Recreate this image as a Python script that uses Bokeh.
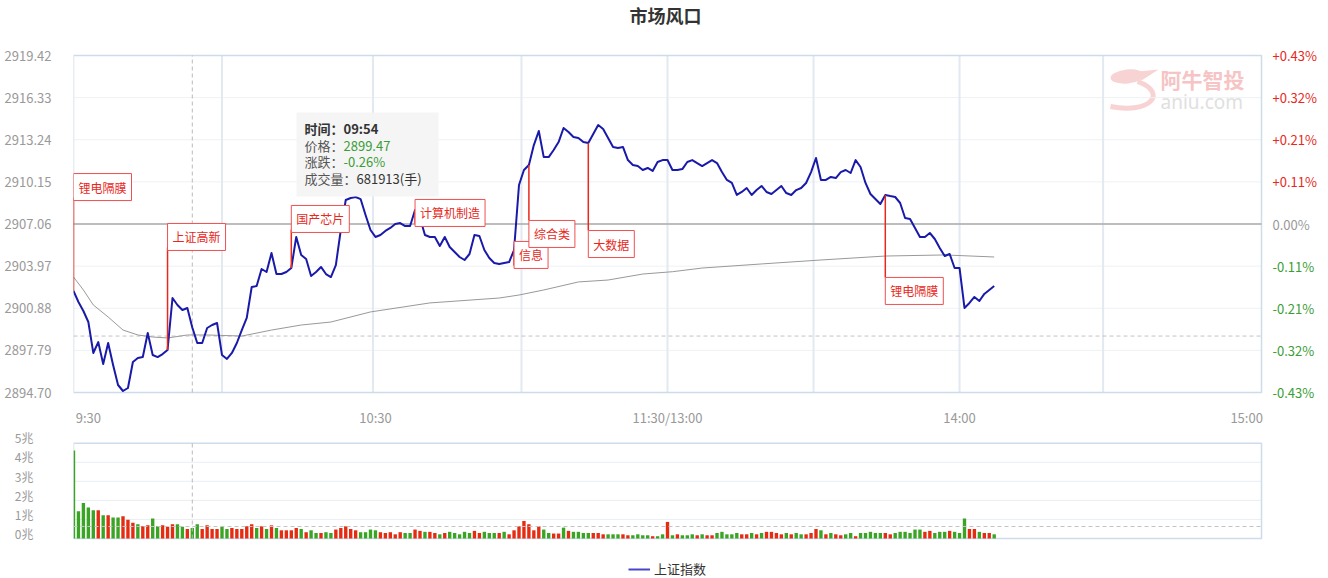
import numpy as np
from bokeh.plotting import figure
from bokeh.models import (ColumnDataSource, Range1d, FixedTicker, NumeralTickFormatter,
                          LinearAxis, Legend, LegendItem)
from bokeh.layouts import column
from bokeh.embed import file_html
from bokeh.resources import INLINE
from bokeh.core.properties import value

FONT = "Noto Sans CJK SC"

# ---------------- data ----------------
index_name = "上证指数"
pre_close = 2907.06
price_levels = [2894.70, 2897.79, 2900.88, 2903.97, 2907.06,
                2910.15, 2913.24, 2916.33, 2919.42]

# one value per trading minute from 09:30 (minute 0); 11:30 and 13:00 share minute 120
price = [
    2902.15, 2901.34, 2900.68, 2899.87, 2897.60, 2898.40, 2896.79, 2898.33, 2896.72, 2895.25,
    2894.81, 2895.03, 2896.94, 2897.23, 2897.30, 2899.06, 2897.45, 2897.30, 2897.52, 2897.82,
    2901.63, 2901.12, 2900.75, 2900.90, 2899.47, 2898.33, 2898.33, 2899.43, 2899.65, 2899.80,
    2897.45, 2897.16, 2897.60, 2898.33, 2899.28, 2900.17, 2902.44, 2902.51, 2903.76, 2903.54,
    2904.93, 2903.39, 2903.39, 2903.54, 2903.83, 2906.11, 2904.79, 2904.49, 2903.25, 2903.54,
    2903.91, 2903.39, 2903.17, 2904.05, 2906.62, 2908.82, 2908.97, 2909.04, 2908.89, 2907.72,
    2906.62, 2906.11, 2906.25, 2906.55, 2906.77, 2907.06, 2907.13, 2906.91, 2906.91, 2908.09,
    2907.50, 2906.25, 2906.11, 2906.11, 2905.45, 2906.11, 2905.37, 2905.01, 2904.64, 2904.42,
    2904.86, 2906.25, 2906.18, 2905.15, 2904.57, 2904.20, 2904.13, 2904.20, 2904.27, 2905.15,
    2909.92, 2911.02, 2911.39, 2912.85, 2913.88, 2911.97, 2911.97, 2912.49, 2913.07, 2914.10,
    2913.81, 2913.44, 2913.37, 2913.07, 2913.00, 2913.66, 2914.32, 2914.03, 2913.37, 2912.71,
    2912.63, 2912.71, 2911.75, 2911.39, 2911.31, 2911.02, 2911.17, 2910.95, 2911.61, 2911.75,
    2911.75, 2911.02, 2911.02, 2911.09, 2911.61, 2911.75, 2911.53, 2911.31, 2911.53, 2911.75,
    2911.53, 2910.87, 2910.29, 2910.07, 2909.19, 2909.41, 2909.70, 2909.19, 2909.55, 2909.85,
    2909.41, 2909.26, 2909.55, 2909.85, 2909.33, 2909.19, 2909.55, 2909.70, 2910.07, 2910.87,
    2911.90, 2910.29, 2910.29, 2910.51, 2910.43, 2910.87, 2911.02, 2910.80, 2911.75, 2911.24,
    2910.07, 2909.26, 2908.89, 2908.53, 2909.19, 2909.11, 2909.04, 2908.60, 2907.50, 2907.43,
    2906.77, 2906.11, 2906.11, 2906.40, 2905.96, 2905.30, 2904.71, 2904.86, 2903.83, 2903.83,
    2900.90, 2901.27, 2901.71, 2901.41, 2901.93, 2902.22, 2902.51,
]

# running average price, read at selected minutes
avg_minute = [0, 2, 4, 7, 10, 13, 16, 19, 23, 27, 34, 40, 46, 52, 60, 72, 86, 90, 95,
              102, 108, 115, 121, 127, 139, 151, 164, 176, 186]
avg_price = [2903.17, 2902.22, 2901.12, 2900.24, 2899.28, 2898.92, 2898.77, 2898.70,
             2898.92, 2898.92, 2898.84, 2899.28, 2899.65, 2899.87, 2900.61, 2901.27,
             2901.63, 2901.85, 2902.22, 2902.81, 2902.95, 2903.39, 2903.56, 2903.83,
             2904.13, 2904.42, 2904.71, 2904.79, 2904.64]

# turnover per minute (兆)
volume = [
    4.62, 1.43, 1.86, 1.62, 1.48, 1.48, 1.22, 1.22, 1.10, 1.10,
    1.17, 0.99, 0.82, 0.75, 0.64, 0.69, 1.05, 0.64, 0.69, 0.61,
    0.75, 0.75, 0.61, 0.50, 0.55, 0.75, 0.50, 0.69, 0.50, 0.50,
    0.61, 0.50, 0.55, 0.50, 0.50, 0.64, 0.75, 0.55, 0.64, 0.50,
    0.69, 0.55, 0.43, 0.43, 0.43, 0.55, 0.50, 0.33, 0.43, 0.29,
    0.29, 0.33, 0.29, 0.47, 0.55, 0.64, 0.50, 0.43, 0.33, 0.33,
    0.47, 0.43, 0.33, 0.29, 0.33, 0.22, 0.33, 0.29, 0.29, 0.47,
    0.40, 0.35, 0.35, 0.29, 0.22, 0.29, 0.35, 0.29, 0.22, 0.35,
    0.29, 0.40, 0.29, 0.35, 0.29, 0.29, 0.29, 0.35, 0.22, 0.43,
    0.64, 0.92, 0.75, 0.43, 0.64, 0.47, 0.29, 0.26, 0.26, 0.57,
    0.40, 0.35, 0.35, 0.29, 0.29, 0.29, 0.29, 0.22, 0.22, 0.22,
    0.22, 0.22, 0.17, 0.17, 0.22, 0.17, 0.17, 0.12, 0.12, 0.22,
    0.87, 0.17, 0.22, 0.17, 0.17, 0.22, 0.17, 0.22, 0.17, 0.17,
    0.29, 0.35, 0.22, 0.22, 0.29, 0.22, 0.22, 0.29, 0.22, 0.29,
    0.35, 0.35, 0.29, 0.22, 0.29, 0.22, 0.29, 0.22, 0.22, 0.29,
    0.50, 0.43, 0.22, 0.29, 0.22, 0.17, 0.22, 0.29, 0.12, 0.29,
    0.29, 0.35, 0.29, 0.29, 0.29, 0.22, 0.29, 0.35, 0.35, 0.29,
    0.47, 0.47, 0.35, 0.40, 0.29, 0.35, 0.35, 0.40, 0.35, 0.29,
    1.05, 0.50, 0.50, 0.35, 0.29, 0.29, 0.22,
]
# 1 = up minute (red), 0 = down minute (green)
volume_up = [
    0, 0, 0, 0, 0, 1, 0, 1, 0, 0,
    1, 1, 1, 0, 1, 1, 0, 0, 1, 1,
    1, 0, 0, 1, 0, 0, 1, 1, 1, 1,
    0, 0, 1, 1, 1, 1, 1, 0, 1, 0,
    1, 0, 1, 1, 1, 1, 0, 1, 0, 0,
    1, 0, 0, 1, 1, 1, 1, 1, 0, 0,
    0, 0, 1, 1, 1, 1, 1, 0, 0, 1,
    1, 0, 1, 1, 0, 1, 0, 0, 0, 0,
    0, 1, 1, 0, 0, 0, 1, 0, 1, 1,
    1, 1, 1, 1, 1, 0, 0, 1, 1, 0,
    1, 0, 0, 0, 0, 1, 1, 1, 0, 0,
    0, 1, 1, 0, 0, 0, 0, 1, 0, 0,
    1, 0, 1, 0, 0, 0, 1, 0, 1, 1,
    0, 0, 0, 0, 0, 1, 1, 0, 1, 0,
    1, 1, 1, 1, 0, 1, 0, 0, 1, 1,
    1, 0, 1, 0, 1, 1, 0, 0, 1, 0,
    0, 0, 0, 0, 1, 1, 0, 0, 0, 0,
    0, 0, 1, 1, 0, 0, 0, 1, 0, 0,
    0, 1, 1, 0, 1, 1, 0,
]
volume_ticks = [0, 1, 2, 3, 4, 5]

# sector flags shown on the price line
flag_minute = [0, 19, 44, 69, 89, 92, 104, 164]
flag_text = ["锂电隔膜", "上证高新", "国产芯片", "计算机制造", "信息", "综合类", "大数据", "锂电隔膜"]

# hovered minute shown in the info box
hover_minute = 24
hover_volume_text = "681913(手)"

time_labels = ["9:30", "10:30", "11:30/13:00", "14:00", "15:00"]

# ---------------- layout ----------------
W = 1328
LEFT = 73                 # left edge of the plotting box (px)
PX_PER_MIN = 4.95
SESSION_END = 240         # 15:00
MAIN_H = 428
FRAME_H = MAIN_H          # time axis sits inside the frame, under the box
TOP_PX = 55               # page row of the highest price level
BOTTOM_PX = 392           # page row of the lowest price level
VOL_H = 578 - MAIN_H
VOL_ZERO_PX = 110         # row of 0 inside the volume figure
VOL_PX_PER_UNIT = 19.06
VOL_LABEL_LIFT = 5.3

time_tick_pos = [3, 61, 120, 179, 237]
vgrid_pos = [30, 60.5, 90.5, 120, 149.5, 179, 208]
flag_box_top = [2910.76, 2907.10, 2908.42, 2908.86, 2905.78, 2907.32, 2906.58, 2903.14]
FLAG_BOX_PX = 24

GRID = "#eef1f5"
VGRID = "#e2e9f0"
FRAME_LINE = "#cddcea"
RED = "#e8281c"
GREEN = "#3a9e35"
BAR_RED = "#e52b12"
BAR_GREEN = "#3aa524"
GREY_TXT = "#999999"

lo, hi = price_levels[0], price_levels[-1]
pts_per_px = (hi - lo) / (BOTTOM_PX - TOP_PX)
x_range = Range1d(0, (W - LEFT) / PX_PER_MIN)
y_range = Range1d(lo - (FRAME_H - BOTTOM_PX) * pts_per_px, hi + TOP_PX * pts_per_px)


def sx(page_x):
    return (page_x - LEFT) / PX_PER_MIN


def sy(page_y):
    return lo + (BOTTOM_PX - page_y) * pts_per_px


minutes = np.arange(len(price))

# ---------------- price panel ----------------
p = figure(width=W, height=MAIN_H, x_range=x_range, y_range=y_range,
           output_backend="svg", toolbar_location=None,
           min_border_left=LEFT, min_border_right=0, min_border_top=0,
           min_border_bottom=0)
p.outline_line_color = None
p.background_fill_color = "white"
p.border_fill_color = "white"
p.xgrid.visible = False
p.ygrid.visible = False

p.yaxis.ticker = FixedTicker(ticks=price_levels)
p.yaxis.formatter = NumeralTickFormatter(format="0.00")
p.yaxis.axis_line_color = None
p.yaxis.major_tick_line_color = None
p.yaxis.minor_tick_line_color = None
p.yaxis.major_label_standoff = 16
p.yaxis.major_label_text_color = GREY_TXT
p.yaxis.major_label_text_font = FONT
p.yaxis.major_label_text_font_size = "13px"

p.xaxis.fixed_location = lo
p.xaxis.ticker = FixedTicker(ticks=time_tick_pos)
p.xaxis.major_label_overrides = dict(zip(time_tick_pos, time_labels))
p.xaxis.axis_line_color = None
p.xaxis.major_tick_line_color = None
p.xaxis.major_tick_out = 0
p.xaxis.major_tick_in = 0
p.xaxis.minor_tick_line_color = None
p.xaxis.major_label_standoff = 15
p.xaxis.major_label_text_color = GREY_TXT
p.xaxis.major_label_text_font = FONT
p.xaxis.major_label_text_font_size = "13px"

# watermark
p.ellipse(x=sx(1127), y=sy(76), width=34, height=14, width_units="screen",
          height_units="screen", fill_color="#f8d3d3", line_color=None, angle=0.1)
p.patch(x=[sx(1138), sx(1158), sx(1141)], y=[sy(71), sy(69), sy(80)],
        fill_color="#f8d3d3", line_color=None)
p.bezier(x0=[sx(1137)], y0=[sy(81)], x1=[sx(1110)], y1=[sy(106)],
         cx0=[sx(1168)], cy0=[sy(92)], cx1=[sx(1150)], cy1=[sy(114)],
         line_color="#f8d3d3", line_width=5)
p.text(x=[sx(1160)], y=[sy(78)], text=["阿牛智投"], text_align="left",
       text_baseline="middle", text_color="#f6c4c4", text_font=value(FONT),
       text_font_size="21px", text_font_style="bold")
p.text(x=[sx(1160)], y=[sy(101)], text=["aniu.com"], text_align="left",
       text_baseline="middle", text_color="#e0e0e0", text_font=value("Noto Sans"),
       text_font_size="19px")

# grid
p.segment(x0=0, x1=SESSION_END, y0=price_levels, y1=price_levels,
          line_color=GRID, line_width=1)
p.segment(x0=vgrid_pos, x1=vgrid_pos, y0=lo, y1=hi, line_color=VGRID, line_width=2)
p.quad(left=0, right=SESSION_END, bottom=lo, top=hi, fill_color=None,
       line_color=FRAME_LINE, line_width=1.5)
p.segment(x0=0, x1=SESSION_END, y0=pre_close, y1=pre_close,
          line_color="#aaaaaa", line_width=1.6)

# cursor guides
p.segment(x0=hover_minute, x1=hover_minute, y0=lo, y1=hi, line_color="#bbbbbb",
          line_width=1, line_dash="4 3")
p.segment(x0=0, x1=SESSION_END, y0=2898.84, y1=2898.84, line_color="#c4c4c4",
          line_width=1, line_dash="4 3")

# average and price lines
p.line(avg_minute, avg_price, line_color="#999999", line_width=1, line_join="round")
main_line = p.line(minutes, price, line_color="#1a1aaa", line_width=2,
                   line_join="round")

# sector flags
box_h = FLAG_BOX_PX * pts_per_px
flag_price = [price[m] for m in flag_minute]
flag_end = [top if pr > top else top - box_h for pr, top in zip(flag_price, flag_box_top)]
p.segment(x0=flag_minute, x1=flag_minute, y0=flag_price, y1=flag_end,
          line_color=RED, line_width=1.5)
flag_src = ColumnDataSource(dict(x=flag_minute, y=flag_box_top, t=flag_text))
p.text(x="x", y="y", text="t", source=flag_src, text_align="left", text_baseline="top",
       text_color=RED, text_font=value(FONT), text_font_size="12px",
       padding=5, background_fill_color="white",
       border_line_color="#f05050", border_line_width=1)

# right-hand percentage labels
pct = [(lv - pre_close) / pre_close * 100 for lv in price_levels]
pct_text = [("+" if v > 0.005 else "") + f"{v:.2f}%" if abs(v) > 0.005 else "0.00%" for v in pct]
pct_color = [RED if v > 0.005 else (GREEN if v < -0.005 else GREY_TXT) for v in pct]
pct_src = ColumnDataSource(dict(x=[SESSION_END] * len(price_levels), y=price_levels,
                                t=pct_text, c=pct_color))
p.text(x="x", y="y", text="t", text_color="c", source=pct_src, x_offset=11,
       text_align="left", text_baseline="middle", text_font=value(FONT),
       text_font_size="13px")

# title
p.text(x=[sx(665)], y=[sy(14)], text=["市场风口"], text_align="center",
       text_baseline="middle", text_color="#333333", text_font=value(FONT),
       text_font_size="18px", text_font_style="bold")

# info box for the hovered minute
hp = price[hover_minute]
hchg = (hp - pre_close) / pre_close * 100
htime = f"{9 + (30 + hover_minute) // 60:02d}:{(30 + hover_minute) % 60:02d}"
p.rect(x=[sx(367)], y=[sy(154)], width=142, height=84, width_units="screen",
       height_units="screen", fill_color="#f4f4f4", fill_alpha=0.92, line_color=None)
rows_y = [sy(128), sy(145), sy(161), sy(178)]
row_keys = ["时间：", "价格：", "涨跌：", "成交量："]
row_vals = [htime, f"{hp:.2f}", f"{hchg:.2f}%", hover_volume_text]
key_colors = ["#333333", "#555555", "#555555", "#555555"]
val_colors = ["#333333", GREEN, GREEN, "#333333"]
for i in range(4):
    style = "bold" if i == 0 else "normal"
    p.text(x=[sx(304)], y=[rows_y[i]], text=[row_keys[i]], text_align="left",
           text_baseline="middle", text_color=key_colors[i], text_font=value(FONT),
           text_font_size="13px", text_font_style=style)
    p.text(x=[sx(304 + 13 * len(row_keys[i]))], y=[rows_y[i]], text=[row_vals[i]],
           text_align="left", text_baseline="middle", text_color=val_colors[i],
           text_font=value(FONT), text_font_size="13px", text_font_style=style)

# ---------------- volume panel ----------------
v_lo = -(VOL_H - VOL_ZERO_PX) / VOL_PX_PER_UNIT
v_hi = VOL_ZERO_PX / VOL_PX_PER_UNIT
lift = VOL_LABEL_LIFT / VOL_PX_PER_UNIT
v = figure(width=W, height=VOL_H, x_range=x_range, y_range=Range1d(v_lo, v_hi),
           output_backend="svg", toolbar_location=None,
           x_axis_location=None, y_axis_location=None,
           min_border_left=LEFT, min_border_right=0, min_border_top=0, min_border_bottom=0)
v.outline_line_color = None
v.background_fill_color = "white"
v.border_fill_color = "white"
v.xgrid.visible = False
v.ygrid.visible = False
v.extra_y_ranges = {"labels": Range1d(v_lo - lift, v_hi - lift)}
vax = LinearAxis(y_range_name="labels", ticker=FixedTicker(ticks=volume_ticks))
vax.major_label_overrides = {t: f"{t}兆" for t in volume_ticks}
vax.axis_line_color = None
vax.major_tick_line_color = None
vax.minor_tick_line_color = None
vax.major_label_standoff = 34
vax.major_label_text_color = GREY_TXT
vax.major_label_text_font = FONT
vax.major_label_text_font_size = "12px"
v.add_layout(vax, "left")

v.segment(x0=0, x1=SESSION_END, y0=volume_ticks[1:-1], y1=volume_ticks[1:-1],
          line_color="#e9eef3", line_width=1)
v.quad(left=0, right=SESSION_END, bottom=0, top=volume_ticks[-1], fill_color=None,
       line_color=FRAME_LINE, line_width=1.5)
bar_color = [BAR_RED if u else BAR_GREEN for u in volume_up]
v.vbar(x=minutes, top=volume, bottom=0, width=0.68, fill_color=bar_color,
       line_color=None)
v.segment(x0=hover_minute, x1=hover_minute, y0=0, y1=volume_ticks[-1],
          line_color="#bbbbbb", line_width=1, line_dash="4 3")
v.segment(x0=0, x1=SESSION_END, y0=0.63, y1=0.63, line_color="#c4c4c4",
          line_width=1, line_dash="4 3")

# legend swatch: a line kept outside the visible ranges, used only for the key
swatch = v.line(x=[-20, -10], y=[-20, -20], line_color="#4646cc", line_width=2)
legend = Legend(items=[LegendItem(label=index_name, renderers=[swatch])],
                location=(555, 0), orientation="horizontal", padding=0, margin=0,
                glyph_width=22, glyph_height=14, label_height=14, label_standoff=4,
                label_text_font=FONT, label_text_font_size="13px",
                label_text_color="#333333", background_fill_alpha=0,
                border_line_color=None)
v.add_layout(legend)

layout = column(p, v)
open("out.html", "w").write(file_html(layout, INLINE))
